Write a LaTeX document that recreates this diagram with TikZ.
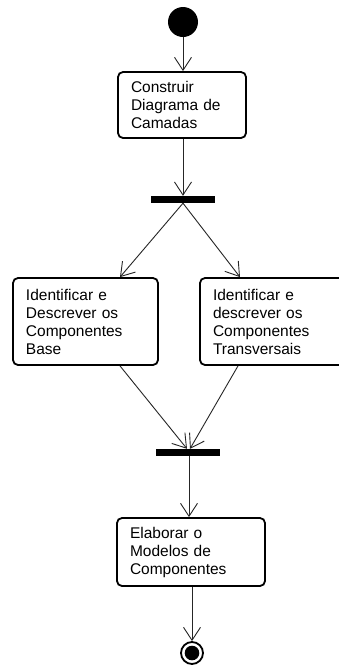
\documentclass[tikz,border=0pt]{standalone}
\usepackage{fontspec}
\setmainfont{Liberation Sans}
\usetikzlibrary{arrows.meta}

\begin{document}
\begin{tikzpicture}[x=1pt,y=-1pt,
  action/.style={draw=black,line width=1.8pt,rounded corners=5pt,
    align=left,inner xsep=13pt,inner ysep=0pt,
    font=\fontsize{15.5pt}{18pt}\selectfont},
  bar/.style={fill=black,draw=none,inner sep=0pt,minimum width=64pt,minimum height=7pt},
  flow/.style={draw=black!85,line width=0.9pt,
    -{Straight Barb[length=13pt,width=17pt,line width=0.9pt]}},
  plain/.style={draw=black!85,line width=0.9pt}]

\useasboundingbox (0,0) rectangle (339,665);
\fill[white] (0,0) rectangle (339,665);
\clip (0,0) rectangle (339,665);

% initial state
\node[circle,fill=black,inner sep=0pt,minimum size=30pt] (start) at (183,22) {};

% first activity
\node[action,minimum width=128pt,minimum height=66pt,text width=102pt]
  (construir) at (182,105) {Construir\\Diagrama de\\Camadas};

% fork
\node[bar] (fork) at (183,199.5) {};

% parallel activities
\node[action,minimum width=145pt,minimum height=87pt,text width=119pt]
  (base) at (85.5,321.5) {Identificar e\\Descrever os\\Componentes\\Base};
\node[action,minimum width=160pt,minimum height=87pt,text width=134pt]
  (transv) at (280,321.5) {Identificar e\\descrever os\\Componentes\\Transversais};

% join
\node[bar] (join) at (188,452.5) {};

% last activity
\node[action,minimum width=148pt,minimum height=68pt,text width=122pt]
  (elaborar) at (191,552) {Elaborar o\\Modelos de\\Componentes};

% final state
\node[circle,draw=black,line width=1.8pt,inner sep=0pt,minimum size=22pt,
  path picture={\fill[black] (path picture bounding box.center) circle (7.3pt);}]
  (final) at (192,653) {};

% connection points on the box edges
\coordinate (baseIn)   at (base.north -| 120,0);
\coordinate (transvIn) at (transv.north -| 240,0);
\coordinate (baseOut)  at (base.south -| 120,0);
\coordinate (transvOut) at (transv.south -| 238,0);
\coordinate (joinL) at (join.north -| 187,0);
\coordinate (joinR) at (join.north -| 190,0);
\coordinate (joinOut) at (join.south -| 189,0);
\coordinate (elabIn) at (elaborar.north -| 189,0);

% transitions
\draw[flow] (start) -- (construir.north -| start);
\draw[flow] (construir.south -| fork) -- (fork.north);
\draw[flow] (fork.south) -- (baseIn);
\draw[flow] (fork.south) -- (transvIn);
\draw[flow] (baseOut) -- (joinL);
\draw[flow] (transvOut) -- (joinR);
\draw[flow] (joinOut) -- (elabIn);
\draw[flow] (elaborar.south -| final) -- (final.north);

\end{tikzpicture}
\end{document}
